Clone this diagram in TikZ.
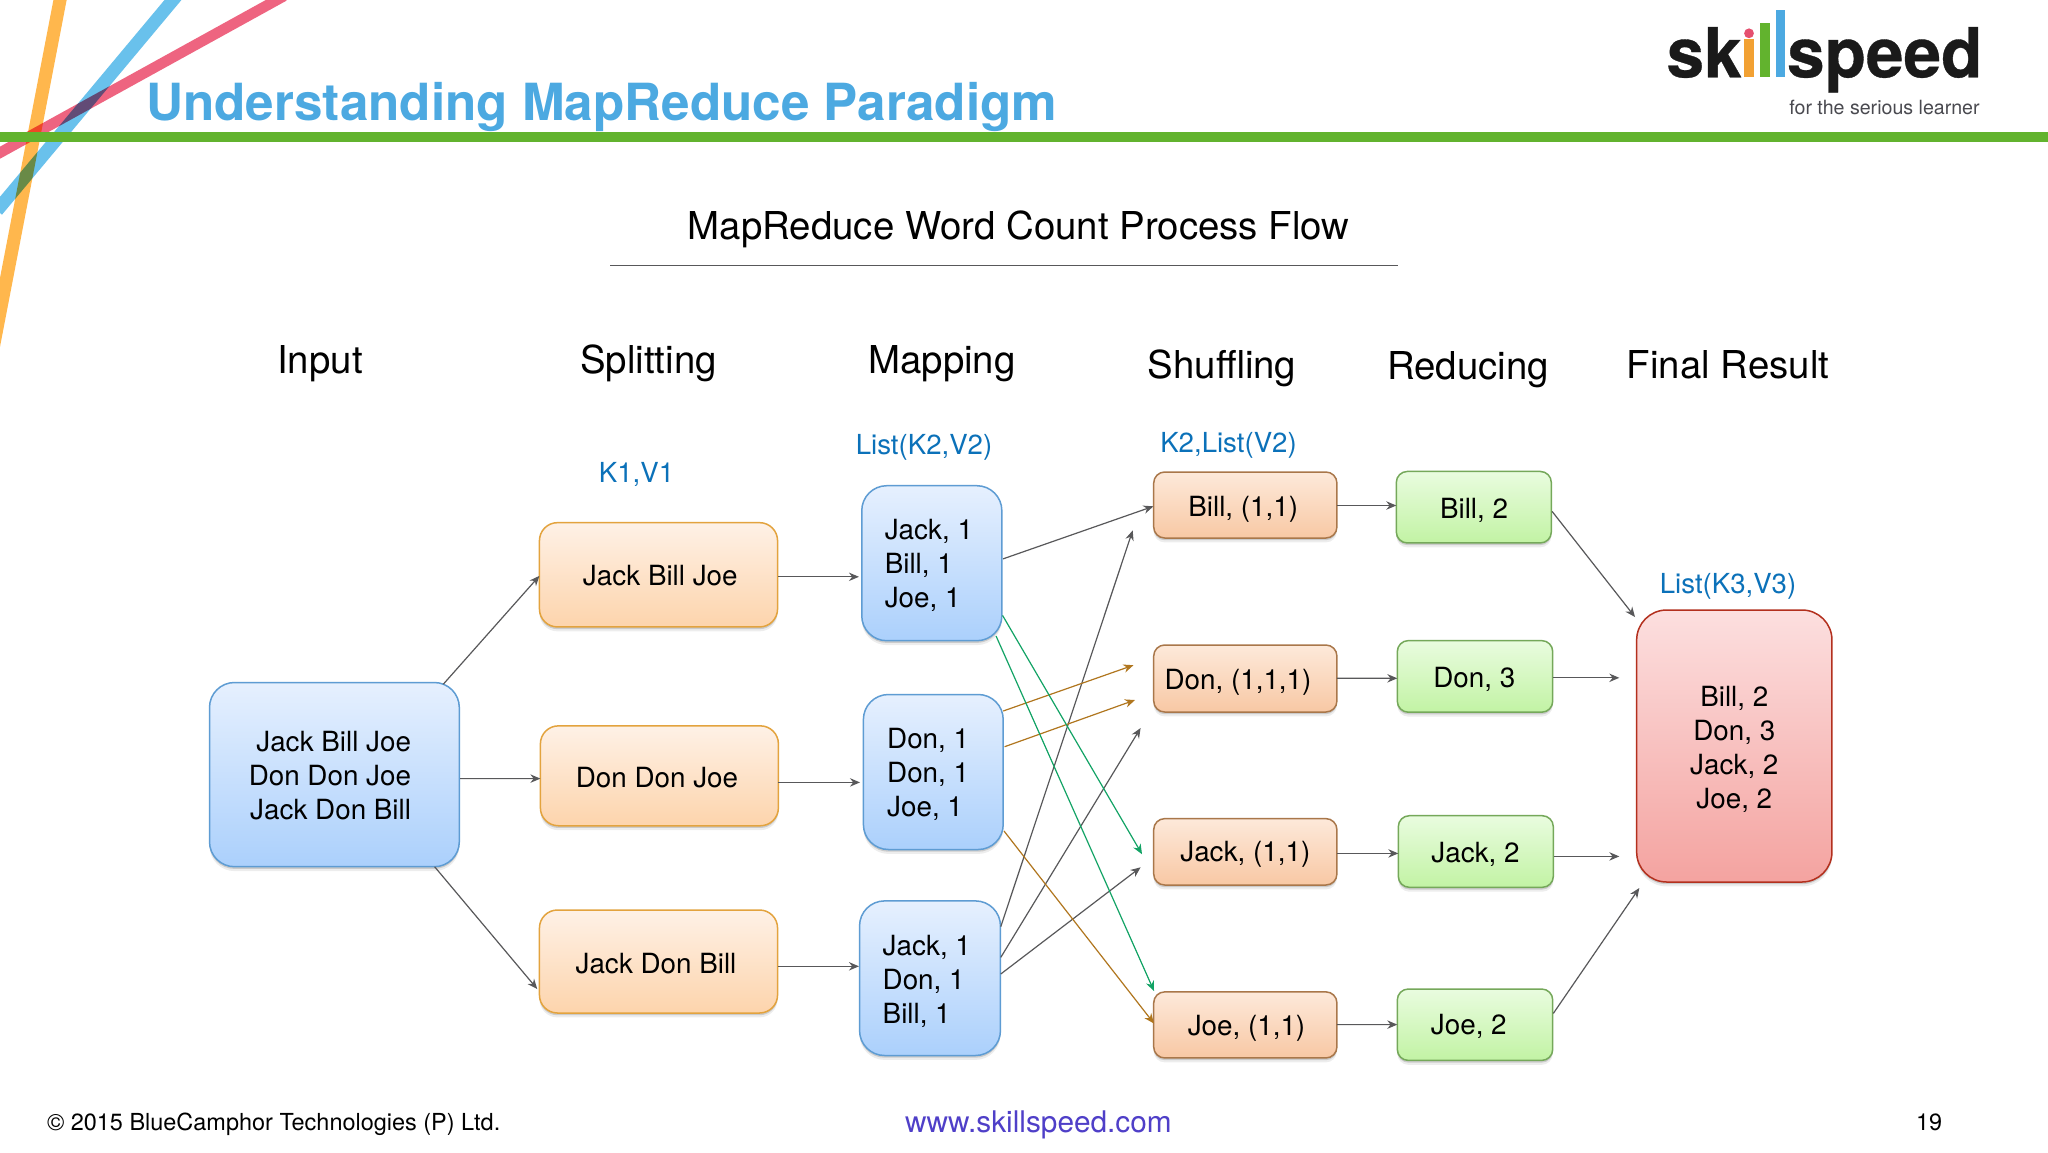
\documentclass[tikz,border=0pt]{standalone}
\usepackage{fontspec}
\setmainfont{TeX Gyre Heros}
\usetikzlibrary{arrows.meta,shadows}
\definecolor{arrgray}{HTML}{58585A}
\definecolor{arrgreen}{HTML}{12A365}
\definecolor{arrbrown}{HTML}{B0761E}
\definecolor{labelblue}{HTML}{0B71B9}
\definecolor{titleblue}{HTML}{4CA9E1}
\definecolor{bargreen}{HTML}{62B32E}
\definecolor{stripeorange}{HTML}{FFB74D}
\definecolor{stripeblue}{HTML}{69C1EC}
\definecolor{stripered}{HTML}{EE6480}
\definecolor{logoblack}{HTML}{1A1A1A}
\definecolor{logogray}{HTML}{4A4A50}
\definecolor{logoorange}{HTML}{F2A133}
\definecolor{logogreen}{HTML}{62B32E}
\definecolor{logoblue}{HTML}{4CA9E1}
\definecolor{logopink}{HTML}{E5506F}
\definecolor{linkpurple}{HTML}{4F3FC8}
\definecolor{boxblue}{HTML}{5E9CD3}\definecolor{blueT}{HTML}{E6F0FE}\definecolor{blueB}{HTML}{ABD0FC}
\definecolor{boxorange}{HTML}{E3A33E}\definecolor{orangeT}{HTML}{FEF1E6}\definecolor{orangeB}{HTML}{FDD4AC}
\definecolor{boxshuf}{HTML}{A9774A}\definecolor{shufT}{HTML}{FDE9DA}\definecolor{shufB}{HTML}{F8C8A4}
\definecolor{boxgreen}{HTML}{75A85A}\definecolor{greenT}{HTML}{E9FCDF}\definecolor{greenB}{HTML}{C2F3A4}
\definecolor{boxred}{HTML}{B3301E}\definecolor{redT}{HTML}{FCDFDF}\definecolor{redB}{HTML}{F4A3A0}
\newfontfamily\logofont[FakeBold=0.5]{TeX Gyre Heros Bold}
\tikzset{
  x=0.5pt,y=-0.5pt,
  sz/.style 2 args={minimum width=#1*0.5pt,minimum height=#2*0.5pt},
  basebox/.style={rectangle,draw,line width=0.75pt,inner sep=0pt,outer sep=0pt,
    drop shadow={shadow xshift=0pt,shadow yshift=-2.2pt,opacity=.07,fill=black},
    drop shadow={shadow xshift=0pt,shadow yshift=-1.1pt,opacity=.14,fill=black}},
  bluebox/.style={basebox,rounded corners=12.5pt,draw=boxblue,top color=blueT,bottom color=blueB},
  splitbox/.style={basebox,rounded corners=9pt,draw=boxorange,top color=orangeT,bottom color=orangeB},
  shufbox/.style={basebox,rounded corners=5.5pt,draw=boxshuf,top color=shufT,bottom color=shufB},
  redubox/.style={basebox,rounded corners=5.5pt,draw=boxgreen,top color=greenT,bottom color=greenB},
  finalbox/.style={basebox,rounded corners=15pt,draw=boxred,top color=redT,bottom color=redB},
  txt/.style={inner sep=0pt,outer sep=0pt,font=\fontsize{13.9}{17}\selectfont,text=black},
  head/.style={inner sep=0pt,outer sep=0pt,anchor=base,font=\fontsize{19.2}{22}\selectfont,text=black},
  kv/.style={inner sep=0pt,outer sep=0pt,anchor=base,font=\fontsize{13.8}{16}\selectfont,text=labelblue},
  arr/.style={line width=0.6pt,draw=arrgray,-{Stealth[length=5pt,width=4.2pt,fill=arrgray]}},
  arrg/.style={line width=0.6pt,draw=arrgreen,-{Stealth[length=5pt,width=4.2pt,fill=arrgreen]}},
  arrb/.style={line width=0.6pt,draw=arrbrown,-{Stealth[length=5pt,width=4.2pt,fill=arrbrown]}},
  foot/.style={inner sep=0pt,outer sep=0pt,anchor=base west,font=\fontsize{11.73}{14}\selectfont,text=black},
}
\begin{document}
\begin{tikzpicture}
\useasboundingbox[fill=white] (0,0) rectangle (2048,1152);
% decorative stripes
\begin{scope}[blend mode=multiply]
\draw[line width=6.5pt,stripeorange] (60.8,-4) -- (-8,354);
\draw[line width=6.5pt,stripeblue] (176.3,-4) -- (-3,210.5);
\draw[line width=5.3pt,stripered] (284,-4) -- (-6,156);
\end{scope}
\fill[bargreen] (0,132) rectangle (2048,142);
% title
\node[inner sep=0pt,outer sep=0pt,anchor=base west,text=titleblue,font=\fontsize{25.6}{28}\selectfont\bfseries] (title) at (146,120) {Understanding MapReduce Paradigm};
% logo
\node[inner sep=0pt,outer sep=0pt,anchor=base west,text=logoblack,font=\fontsize{34.5}{40}\selectfont\logofont] (logosk) at (1666.5,77.3) {\scalebox{0.98}[1]{sk}};
\fill[logoorange] (1744.3,39) rectangle (1754.3,77.3);
\fill[logopink] (1749,33.3) circle[radius=4.9];
\fill[logogreen] (1760,22.7) rectangle (1770,77.3);
\fill[logoblue] (1775.7,10) rectangle (1785.3,77.3);
\node[inner sep=0pt,outer sep=0pt,anchor=base west,text=logoblack,font=\fontsize{34.5}{40}\selectfont\logofont] (logospeed) at (1787,77.3) {\scalebox{0.98}[1]{speed}};
\node[inner sep=0pt,outer sep=0pt,anchor=base west,text=logogray,font=\fontsize{9.8}{12}\selectfont] (logotag) at (1789.3,114) {for the serious learner};
% heading
\node[inner sep=0pt,outer sep=0pt,anchor=base,font=\fontsize{19.2}{22}\selectfont] (heading) at (1018.5,239) {MapReduce Word Count Process Flow};
\coordinate (ruleL) at (610,265.5);
\coordinate (ruleR) at (1398,265.5);
\draw[line width=0.7pt,draw=arrgray] (ruleL) -- (ruleR);
% column heads
\node[head] (hInput) at (320,373.5) {Input};
\node[head] (hSplit) at (648.5,373.5) {Splitting};
\node[head] (hMap) at (942,373.5) {Mapping};
\node[head] (hShuf) at (1222,378) {Shuffling};
\node[head] (hRed) at (1468,379) {Reducing};
\node[head] (hFinal) at (1728,378) {Final Result};
% key/value labels
\node[kv] (kv1) at (636.5,482.7) {K1,V1};
\node[kv] (kv2) at (924,454) {List(K2,V2)};
\node[kv] (kv3) at (1228.5,452.3) {K2,List(V2)};
\node[kv] (kv4) at (1728,593.4) {List(K3,V3)};
% boxes
\node[bluebox,sz={249.8}{184.2}] (input) at (334.4,774.6) {};
\node[splitbox,sz={238.1}{104.3}] (s1) at (658.5,574.8) {};
\node[splitbox,sz={238}{99.9}] (s2) at (659.4,775.8) {};
\node[splitbox,sz={238.1}{103}] (s3) at (658.5,961.5) {};
\node[bluebox,sz={140.1}{155}] (m1) at (931.8,563.2) {};
\node[bluebox,sz={139.8}{155}] (m2) at (933.3,772) {};
\node[bluebox,sz={140.9}{154.6}] (m3) at (930,978.2) {};
\node[shufbox,sz={183.2}{66}] (sh1) at (1245.3,505) {};
\node[shufbox,sz={183.2}{67}] (sh2) at (1245.3,678.5) {};
\node[shufbox,sz={183.2}{66.4}] (sh3) at (1245.3,851.8) {};
\node[shufbox,sz={183.2}{66.1}] (sh4) at (1245.3,1024.9) {};
\node[redubox,sz={155}{71.5}] (r1) at (1473.8,507.2) {};
\node[redubox,sz={155.4}{71.6}] (r2) at (1475,676.4) {};
\node[redubox,sz={155}{71.6}] (r3) at (1475.8,851.5) {};
\node[redubox,sz={155.4}{71.4}] (r4) at (1475,1024.7) {};
\node[finalbox,sz={195.3}{272}] (final) at (1734.3,746) {};
% box texts
\node[txt,anchor=east,align=right] (tinput) at (411,775.5) {Jack Bill Joe\\Don Don Joe\\Jack Don Bill};
\node[txt] (ts1) at (660.3,575.5) {Jack Bill Joe};
\node[txt] (ts2) at (657,777.5) {Don Don Joe};
\node[txt] (ts3) at (656,963.5) {Jack Don Bill};
\node[txt,anchor=west,align=left] (tm1) at (884.8,565) {Jack, 1\\Bill, 1\\Joe, 1};
\node[txt,anchor=west,align=left] (tm2) at (887.2,774.5) {Don, 1\\Don, 1\\Joe, 1};
\node[txt,anchor=west,align=left] (tm3) at (882.7,981) {Jack, 1\\Don, 1\\Bill, 1};
\node[txt] (tsh1) at (1243.2,509) {Bill, (1,1)};
\node[txt] (tsh2) at (1238,682) {Don, (1,1,1)};
\node[txt] (tsh3) at (1245.3,854.7) {Jack, (1,1)};
\node[txt] (tsh4) at (1246.5,1027.9) {Joe, (1,1)};
\node[txt] (tr1) at (1474,510) {Bill, 2};
\node[txt] (tr2) at (1474.3,679) {Don, 3};
\node[txt] (tr3) at (1475.5,854) {Jack, 2};
\node[txt] (tr4) at (1468.8,1026.5) {Joe, 2};
\node[txt,align=center] (tfinal) at (1734.3,749.2) {Bill, 2\\Don, 3\\Jack, 2\\Joe, 2};
% free ends beside the boxes
\coordinate (shufBillIn) at (1132.7,530.4);
\coordinate (shufDonA) at (1133.4,665.2);
\coordinate (shufDonB) at (1135,700);
\coordinate (shufDonC) at (1140.6,728);
\coordinate (shufJackG) at (1142,854.2);
\coordinate (shufJackC) at (1140.6,867.3);
\coordinate (finalA) at (1635,617);
\coordinate (finalB) at (1619.3,677.8);
\coordinate (finalC) at (1619.3,856.4);
\coordinate (finalD) at (1639.3,888);
% input to splitting
\draw[arr] ([shift={(-16,-90.4)}]input.east) -- ([shift={(0,1)}]s1.west);
\draw[arr] ([shift={(0.7,4)}]input.east) -- ([shift={(0,2.8)}]s2.west);
\draw[arr] ([shift={(-24.7,92.1)}]input.east) -- ([shift={(-2.2,27.5)}]s3.west);
% splitting to mapping
\draw[arr] ([shift={(0.8,2)}]s1.east) -- ([shift={(-2.8,13.6)}]m1.west);
\draw[arr] ([shift={(0,6.6)}]s2.east) -- ([shift={(-3.4,10.4)}]m2.west);
\draw[arr] ([shift={(0,4.8)}]s3.east) -- ([shift={(-0.6,-11.9)}]m3.west);
% mapping to shuffling
\draw[arr] ([shift={(1.1,-4.3)}]m1.east) -- ([shift={(-0.3,1.3)}]sh1.west);
\draw[arr] ([shift={(0.3,-51.6)}]m3.east) -- (shufBillIn);
\draw[arrb] ([shift={(0,-61)}]m2.east) -- (shufDonA);
\draw[arrb] ([shift={(1.4,-25.3)}]m2.east) -- (shufDonB);
\draw[arr] ([shift={(0.3,-20.8)}]m3.east) -- (shufDonC);
\draw[arrg] ([shift={(0.7,52.2)}]m1.east) -- (shufJackG);
\draw[arr] ([shift={(0.3,-4.2)}]m3.east) -- (shufJackC);
\draw[arrg] ([shift={(-5.8,72.8)}]m1.east) -- ([shift={(0.3,-33.9)}]sh4.west);
\draw[arrb] ([shift={(0.8,59)}]m2.east) -- ([shift={(0.3,-1.4)}]sh4.west);
% shuffling to reducing
\draw[arr] ([shift={(0,0.5)}]sh1.east) -- ([shift={(0,-1.7)}]r1.west);
\draw[arr] ([shift={(0,-0.2)}]sh2.east) -- ([shift={(0,1.9)}]r2.west);
\draw[arr] ([shift={(0,1.6)}]sh3.east) -- ([shift={(0,1.9)}]r3.west);
\draw[arr] ([shift={(0,-0.3)}]sh4.east) -- ([shift={(0,-0.1)}]r4.west);
% reducing to final
\draw[arr] ([shift={(0.8,4.2)}]r1.east) -- (finalA);
\draw[arr] ([shift={(0.6,1.4)}]r2.east) -- (finalB);
\draw[arr] ([shift={(0.7,4.9)}]r3.east) -- (finalC);
\draw[arr] ([shift={(0.6,-11.3)}]r4.east) -- (finalD);
% footer
\node[foot] (copy) at (47,1130.7) {© 2015 BlueCamphor Technologies (P) Ltd.};
\node[foot,text=linkpurple,font=\fontsize{14.9}{17}\selectfont] (link) at (905,1132.7) {www.skillspeed.com};
\node[foot] (pageno) at (1916,1130.7) {19};
\end{tikzpicture}
\end{document}
